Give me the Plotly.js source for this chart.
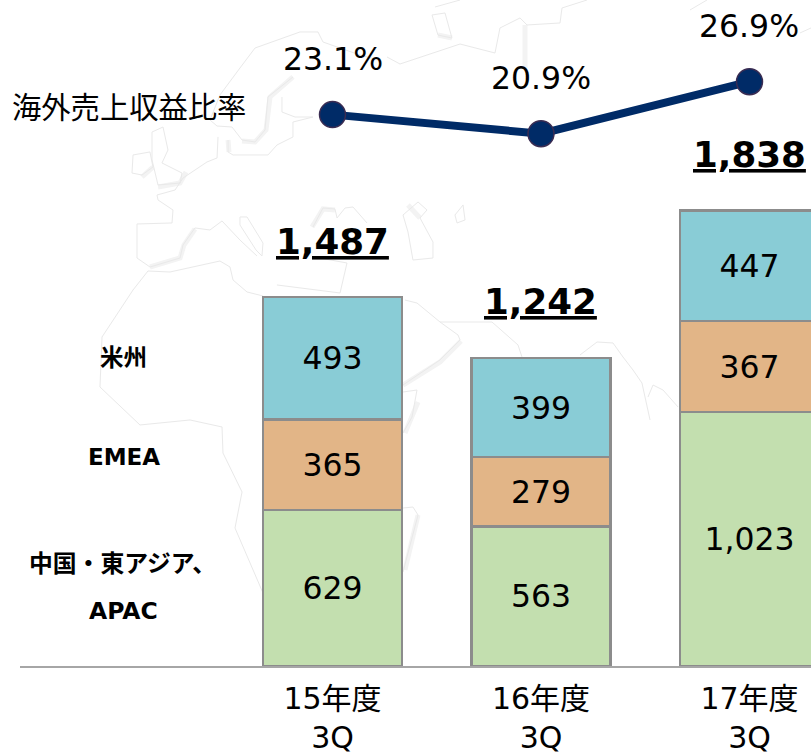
<!DOCTYPE html>
<html>
<head>
<meta charset="utf-8">
<script src="https://cdn.plot.ly/plotly-3.0.1.min.js"></script>
<style>html,body{margin:0;padding:0;background:#fff;overflow:hidden}#c{width:811px;height:754px}</style>
</head>
<body>
<div id="c"></div>
<script>
// ---- chart data ----
const categories = ['15年度<br>3Q', '16年度<br>3Q', '17年度<br>3Q'];
const apac = [629, 563, 1023];
const emea = [365, 279, 367];
const americas = [493, 399, 447];
const totals = [1487, 1242, 1838];
const overseasRatio = [23.1, 20.9, 26.9];
const ratioLabels = ['23.1%', '20.9%', '26.9%'];
const totalLabels = ['1,487', '1,242', '1,838'];

// ---- faint world-map backdrop, page pixels ----
const backdropThin = [
  [[210,120],[220,95],[240,68],[255,48],[300,32],[318,32],[323,42],[340,48],[360,55],[378,60]],
  [[387,57],[400,64],[460,44],[495,53],[500,28],[520,18],[527,25],[560,23],[562,8],[587,0]],
  [[293,77],[268,97],[265,130],[255,142],[242,140],[232,127],[217,126],[210,120]],
  [[228,140],[228,152],[233,155],[268,155],[277,145],[293,137],[293,122],[313,117],[295,117],[282,112],[282,97]],
  [[218,137],[217,158],[207,162],[183,178],[175,190],[157,195],[158,200],[173,210],[172,223],[137,224],[137,258],[150,267],[180,258],[183,245],[195,228],[210,230],[222,221],[240,240],[257,256]],
  [[240,217],[247,217],[263,243],[262,256],[256,250],[240,225],[240,217]],
  [[152,132],[163,127],[168,150],[162,163],[182,173],[180,183],[158,185],[152,160],[152,132]],
  [[133,155],[150,152],[153,167],[142,175],[132,173],[133,155]],
  [[133,290],[148,271],[170,272],[220,261],[230,267],[233,280],[247,292],[263,296]],
  [[277,285],[340,293],[347,263],[320,258]],
  [[133,290],[102,337],[100,387],[140,425],[190,420],[222,427],[223,453],[242,492],[235,528],[263,593]],
  [[313,227],[323,208],[335,209],[337,218],[345,208],[353,207],[367,223]],
  [[403,215],[418,202],[427,210],[420,218],[433,242],[433,258],[413,260],[408,232],[403,215]],
  [[455,215],[463,205],[465,220],[457,223],[455,215]],
  [[405,300],[417,303],[440,322],[492,322],[518,345],[522,357]],
  [[440,322],[458,335],[460,340],[440,360],[403,385]],
  [[403,392],[417,390],[412,417],[403,433]],
  [[403,508],[413,507],[418,515],[403,572]],
  [[580,355],[597,342],[613,343],[623,357],[633,370],[642,383],[650,420]],
  [[648,397],[653,385],[663,390],[678,407]],
  [[432,15],[445,13],[452,38],[438,35],[432,15]],
  [[435,7],[460,0]],
  [[690,10],[707,0]],
  [[800,33],[811,28]]
];
const backdropThick = [
  [[293,77],[270,97],[266,130],[255,142],[242,141]],
  [[228,140],[229,152]],
  [[158,187],[180,183],[186,172]],
  [[153,167],[142,177]],
  [[150,267],[180,258],[184,245],[195,229]],
  [[312,227],[323,209],[335,210]],
  [[525,25],[525,68]],
  [[403,385],[440,362],[461,341]],
  [[405,433],[418,402]],
  [[405,570],[418,515]],
  [[438,35],[452,38]],
  [[420,218],[408,205]]
];

const W = 811, H = 754, L = 20, T = 0, PW = 791, PH = 666;
const toPath = pts => pts.map((p, i) =>
  (i ? 'L' : 'M') + ((p[0] - L) / PW).toFixed(4) + ',' + (1 - (p[1] - T) / PH).toFixed(4)).join(' ');
const backdropShape = (pts, color, width) => ({
  type: 'path', xref: 'paper', yref: 'paper', layer: 'below', path: toPath(pts),
  line: {color, width}
});
const shapes = backdropThick.map(p => backdropShape(p, '#f3f3f3', 5))
  .concat(backdropThin.map(p => backdropShape(p, '#e9e9e9', 1)));

const latin = '"DejaVu Sans", "Noto Sans CJK JP", sans-serif';
const cjk = '"Noto Sans CJK JP", "DejaVu Sans", sans-serif';
const idx = [0, 1, 2];
const barLine = {color: '#8c8c8c', width: 2.4};
const barTrace = (name, values, color) => ({
  type: 'bar', name, x: idx, y: values, marker: {color, line: barLine},
  text: values.map(v => v.toLocaleString('en-US')), textposition: 'inside', insidetextanchor: 'middle',
  textangle: 0, constraintext: 'none', textfont: {family: latin, size: 31.5, color: '#000'},
  hoverinfo: 'skip'
});
const traces = [
  barTrace('中国・東アジア、APAC', apac, '#C3DFAF'),
  barTrace('EMEA', emea, '#E2B587'),
  barTrace('米州', americas, '#89CCD6'),
  {type: 'scatter', mode: 'lines+markers', name: '海外売上収益比率', x: idx, y: overseasRatio, yaxis: 'y2',
   line: {color: '#002B67', width: 8}, cliponaxis: false,
   marker: {color: '#002B67', size: 26, line: {color: '#3A2C52', width: 1.5}}, hoverinfo: 'skip'}
];

const sideLabel = (text, px, py, size, bold, family) => ({
  xref: 'paper', yref: 'paper', x: (px - L) / PW, y: 1 - py / PH, xanchor: 'center', yanchor: 'middle',
  text: bold ? '<b>' + text + '</b>' : text, showarrow: false, font: {family, size, color: '#000'}
});
const annotations = [
  ...idx.map(i => ({xref: 'x', yref: 'y', x: i, y: totals[i], yshift: 56, yanchor: 'middle', xanchor: 'center',
    text: '<b><u>' + totalLabels[i] + '</u></b>', showarrow: false, font: {family: latin, size: 35.7, color: '#000'}})),
  ...idx.map(i => ({xref: 'x', yref: 'y2', x: i, y: overseasRatio[i], yshift: 56, yanchor: 'middle', xanchor: 'center',
    text: ratioLabels[i], showarrow: false, font: {family: latin, size: 31.5, color: '#000'}})),
  sideLabel('海外売上収益比率', 128.5, 105, 29.3, false, cjk),
  sideLabel('米州', 124, 355.5, 23.5, true, cjk),
  sideLabel('EMEA', 124.5, 457, 23, true, latin),
  sideLabel('中国・東アジア、', 122, 561, 23.8, true, cjk),
  sideLabel('APAC', 124, 611, 23.5, true, latin)
];

const layout = {
  width: W, height: H, margin: {l: L, r: 0, t: T, b: H - PH, pad: 0},
  paper_bgcolor: '#fff', plot_bgcolor: 'rgba(0,0,0,0)', showlegend: false,
  barmode: 'stack', bargap: 0.335,
  xaxis: {range: [-1.4988, 2.295], tickmode: 'array', tickvals: idx, ticktext: categories,
    ticks: 'outside', ticklen: 5, tickcolor: 'rgba(0,0,0,0)', tickfont: {family: latin, size: 30, color: '#000'},
    showline: true, linecolor: '#a6a6a6', linewidth: 2, showgrid: false, zeroline: false, fixedrange: true},
  yaxis: {range: [0, 2685], visible: false, showgrid: false, zeroline: false, fixedrange: true},
  yaxis2: {range: [-40.5, 36.32], overlaying: 'y', visible: false, showgrid: false, zeroline: false, fixedrange: true},
  shapes, annotations
};
Plotly.newPlot('c', traces, layout, {displayModeBar: false, staticPlot: true});
</script>
</body>
</html>
